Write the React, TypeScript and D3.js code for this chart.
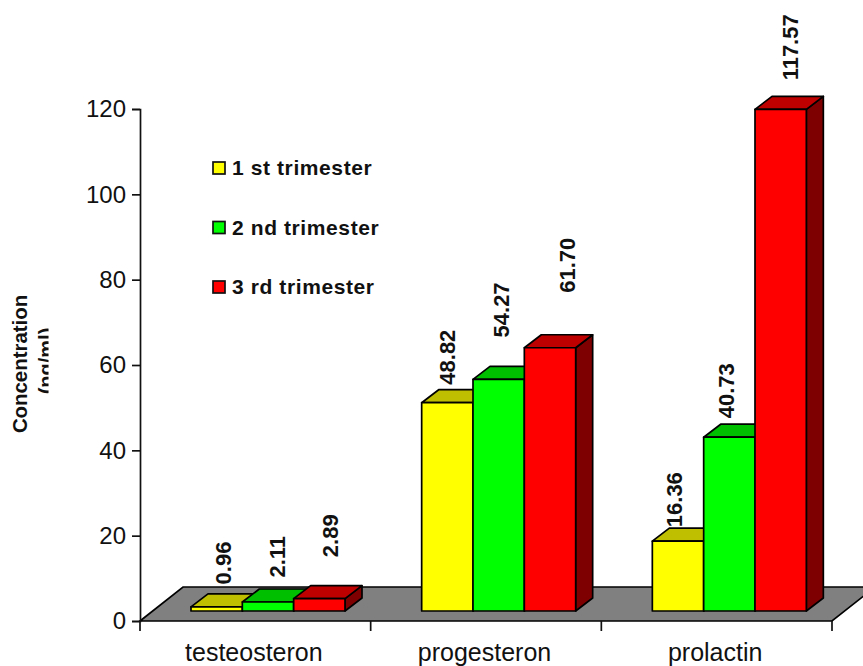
import React, { useEffect, useRef } from 'react';
import * as d3 from 'd3';

const hormones = ['testeosteron', 'progesteron', 'prolactin'];
const trimesters = ['1 st trimester', '2 nd trimester', '3 rd trimester'];
const firstTrimester = [0.96, 48.82, 16.36];
const secondTrimester = [2.11, 54.27, 40.73];
const thirdTrimester = [2.89, 61.7, 117.57];
const yTicks = [0, 20, 40, 60, 80, 100, 120];

const frontColors = ['#FFFF00', '#00FF00', '#FF0000'];
const topColors = ['#BFBF00', '#00BF00', '#BF0000'];
const sideColors = ['#7F7F00', '#007F00', '#7F0000'];

// hand placed value labels, same as the original chart: [dx, gap above bar] per trimester
const labelNudge = [
  [[6.5, 22.5], [8.5, 24.5], [11, 41.5]],
  [[0, 18], [2, 42], [16.5, 55]],
  [[-4, 14], [-3, 19], [9.5, 29]],
];

export default function App() {
  const svgRef = useRef<SVGSVGElement>(null);

  useEffect(() => {
    const svg = d3.select(svgRef.current);
    svg.selectAll('*').remove();

    const width = 863;
    const height = 666;
    const series = [firstTrimester, secondTrimester, thirdTrimester];

    const x = d3.scaleBand().domain(hormones).range([140, 832]);
    const y = d3.scaleLinear().domain([0, 120]).range([621, 109]);
    const inner = d3.scaleBand().domain(trimesters).range([51, 205]);

    // 3d offsets
    const floorDx = 43;
    const floorDy = -34;
    const barDx = 17;
    const barDy = -13;
    const barLift = 10;
    const line = 1.7;

    const poly = (pts: number[][]) => pts.map((p) => p.join(',')).join(' ');

    // Floor
    svg
      .append('polygon')
      .attr('points', poly([
        [x.range()[0], y(0)],
        [x.range()[1], y(0)],
        [x.range()[1] + floorDx, y(0) + floorDy],
        [x.range()[0] + floorDx, y(0) + floorDy],
      ]))
      .attr('fill', '#808080')
      .attr('stroke', '#000')
      .attr('stroke-width', line);

    // Y axis
    const yAxis = svg
      .append('g')
      .attr('transform', `translate(${x.range()[0]},0)`)
      .call(d3.axisLeft(y).tickValues(yTicks).tickSize(8).tickPadding(6));
    yAxis.select('.domain').attr('stroke', '#111').attr('stroke-width', line);
    yAxis.selectAll('line').attr('stroke', '#111').attr('stroke-width', line);
    yAxis
      .selectAll('text')
      .style('font-family', '"Liberation Sans", Arial, sans-serif')
      .style('font-size', '24px')
      .style('fill', '#111');

    // X axis
    const xAxis = svg
      .append('g')
      .attr('transform', `translate(0,${y(0)})`);
    x.domain().forEach((d) => {
      xAxis
        .append('line')
        .attr('x1', x(d) || 0)
        .attr('x2', x(d) || 0)
        .attr('y1', 0)
        .attr('y2', 10)
        .attr('stroke', '#111')
        .attr('stroke-width', line);
      xAxis
        .append('text')
        .attr('x', (x(d) || 0) + x.bandwidth() / 2 - 1.5)
        .attr('y', 40)
        .attr('text-anchor', 'middle')
        .style('font-family', '"Liberation Sans", Arial, sans-serif')
        .style('font-size', '25px')
        .style('fill', '#111')
        .text(d);
    });
    xAxis
      .append('line')
      .attr('x1', x.range()[1])
      .attr('x2', x.range()[1])
      .attr('y1', 0)
      .attr('y2', 10)
      .attr('stroke', '#111')
      .attr('stroke-width', line);

    // Bars
    hormones.forEach((h, i) => {
      trimesters.forEach((t, j) => {
        const v = series[j][i];
        const x0 = (x(h) || 0) + (inner(t) || 0);
        const x1 = x0 + inner.bandwidth();
        const yBase = y(0) - barLift;
        const yTop = y(v) - barLift;
        const bar = svg.append('g').attr('stroke', '#000').attr('stroke-width', line).attr('stroke-linejoin', 'round');
        bar
          .append('polygon')
          .attr('points', poly([[x1, yBase], [x1 + barDx, yBase + barDy], [x1 + barDx, yTop + barDy], [x1, yTop]]))
          .attr('fill', sideColors[j]);
        bar
          .append('polygon')
          .attr('points', poly([[x0, yTop], [x1, yTop], [x1 + barDx, yTop + barDy], [x0 + barDx, yTop + barDy]]))
          .attr('fill', topColors[j]);
        bar
          .append('rect')
          .attr('x', x0)
          .attr('y', yTop)
          .attr('width', x1 - x0)
          .attr('height', yBase - yTop)
          .attr('fill', frontColors[j]);
      });
    });

    // Value labels
    hormones.forEach((h, i) => {
      trimesters.forEach((t, j) => {
        const v = series[j][i];
        const cx = (x(h) || 0) + (inner(t) || 0) + inner.bandwidth() / 2 + labelNudge[i][j][0];
        const bottom = y(v) - barLift - labelNudge[i][j][1];
        svg
          .append('text')
          .attr('transform', `translate(${cx + 8},${bottom}) rotate(-90)`)
          .style('font-family', '"Liberation Sans", Arial, sans-serif')
          .style('font-size', '22px')
          .style('font-weight', 'bold')
          .style('fill', '#111')
          .text(v.toFixed(2));
      });
    });

    // Legend
    const legendY = d3.scalePoint().domain(trimesters).range([168, 287]);
    trimesters.forEach((t, j) => {
      svg
        .append('rect')
        .attr('x', 213)
        .attr('y', (legendY(t) || 0) - 6)
        .attr('width', 12)
        .attr('height', 12)
        .attr('fill', frontColors[j])
        .attr('stroke', '#111')
        .attr('stroke-width', line);
      svg
        .append('text')
        .attr('x', 232)
        .attr('y', (legendY(t) || 0) + 7)
        .style('font-family', '"Liberation Sans", Arial, sans-serif')
        .style('font-size', '21px')
        .style('font-weight', 'bold')
        .style('letter-spacing', '0.6px')
        .style('fill', '#111')
        .text(t);
    });

    // Axis title, second line is cut off in the original
    svg
      .append('clipPath')
      .attr('id', 'title-clip')
      .append('rect')
      .attr('x', 0)
      .attr('y', 0)
      .attr('width', 48.5)
      .attr('height', height);
    const title = svg.append('g').attr('clip-path', 'url(#title-clip)');
    title
      .append('text')
      .attr('transform', 'translate(27,364) rotate(-90)')
      .attr('text-anchor', 'middle')
      .style('font-family', '"Liberation Sans", Arial, sans-serif')
      .style('font-size', '20.4px')
      .style('font-weight', 'bold')
      .style('fill', '#111')
      .text('Concentration');
    title
      .append('text')
      .attr('transform', 'translate(53,361) rotate(-90)')
      .attr('text-anchor', 'middle')
      .style('font-family', '"Liberation Sans", Arial, sans-serif')
      .style('font-size', '20px')
      .style('font-weight', 'bold')
      .style('fill', '#111')
      .text('(ng/ml)');

    svg.attr('width', width).attr('height', height);
  }, []);

  return (
    <svg
      ref={svgRef}
      style={{ position: 'absolute', left: 0, top: 0, display: 'block', overflow: 'hidden' }}
    ></svg>
  );
}
